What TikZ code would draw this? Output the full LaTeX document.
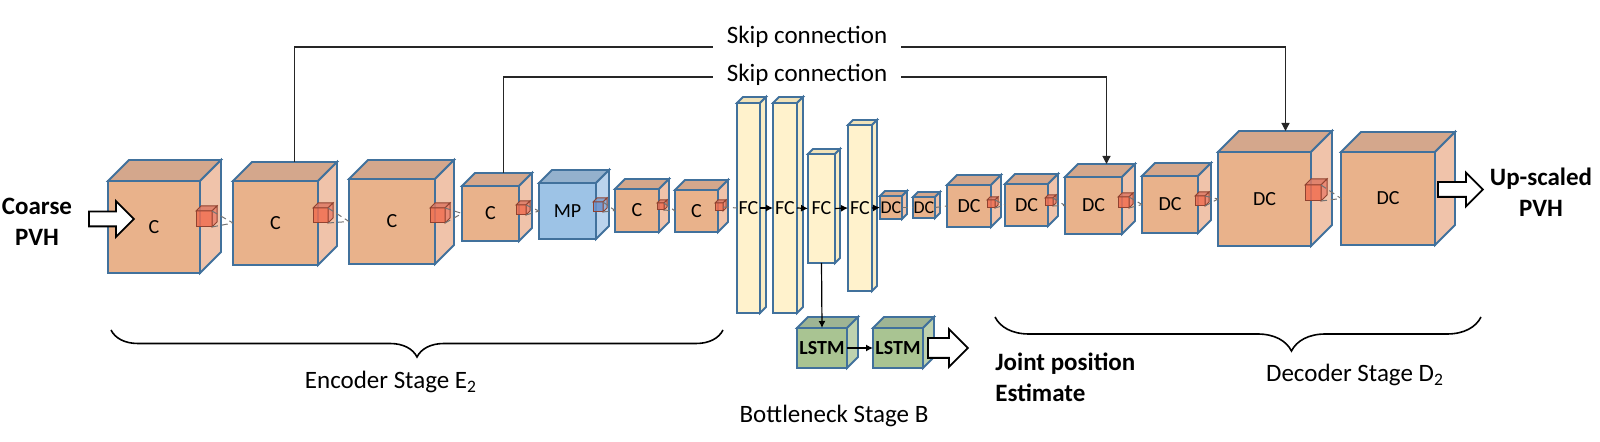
\documentclass[tikz,border=0pt]{standalone}
\usepackage{fontspec}
\setmainfont{Carlito}
\usepackage{tikz}
\usetikzlibrary{positioning, calc, arrows.meta, shapes.arrows, decorations.pathreplacing}

\definecolor{edgeblue}{RGB}{65,113,156}
\definecolor{convF}{RGB}{233,178,139}
\definecolor{convT}{RGB}{212,167,140}
\definecolor{convS}{RGB}{240,195,170}
\definecolor{poolF}{RGB}{157,195,230}
\definecolor{poolT}{RGB}{148,177,205}
\definecolor{poolS}{RGB}{186,211,236}
\definecolor{fcF}{RGB}{255,242,204}
\definecolor{fcT}{RGB}{240,226,184}
\definecolor{fcS}{RGB}{250,236,196}
\definecolor{lstmF}{RGB}{169,196,146}
\definecolor{lstmT}{RGB}{158,180,148}
\definecolor{lstmS}{RGB}{190,210,175}
\definecolor{kernF}{RGB}{240,110,80}
\definecolor{kernT}{RGB}{222,122,100}
\definecolor{kernS}{RGB}{234,130,110}
\definecolor{mpkF}{RGB}{105,145,205}
\definecolor{mpkT}{RGB}{125,155,200}
\definecolor{mpkS}{RGB}{140,170,215}

% \layer{name}{x}{y}{w}{h}{depth}{colour}{label}
\newcommand{\layer}[8]{%
  \node[face, fill=#7F, minimum width={#4*0.5pt}, minimum height={#5*0.5pt}] (#1) at ({#2+#4/2},{#3+#5/2}) {#8};
  \draw[face, fill=#7T] (#1.north west) -- ++(#6,-#6) -- ++(#4,0) -- (#1.north east) -- cycle;
  \draw[face, fill=#7S] (#1.north east) -- ++(#6,-#6) -- ++(0,#5) -- (#1.south east) -- cycle;
  \coordinate (#1-back) at ([shift={(#6,-#6)}]#1.north);
}
% \kernel{name}{x}{y}{size}{depth}{colour}
\newcommand{\kernel}[6]{%
  \node[kface, fill=#6F, minimum size={#4*0.5pt}] (#1) at ({#2+#4/2},{#3+#4/2}) {};
  \draw[kface, fill=#6T] (#1.north west) -- ++(#5,-#5) -- ++(#4,0) -- (#1.north east) -- cycle;
  \draw[kface, fill=#6S] (#1.north east) -- ++(#5,-#5) -- ++(0,#4) -- (#1.south east) -- cycle;
}

\begin{document}
\begin{tikzpicture}[x=0.5pt, y=-0.5pt,
    face/.style={draw=edgeblue, line width=0.9pt, inner sep=0pt, outer sep=0pt, font=\fontsize{10}{12}\selectfont},
    kface/.style={draw=kernF!60!black, line width=0.5pt, inner sep=0pt, outer sep=0pt, fill opacity=0.85},
    link/.style={densely dashed, black!55, line width=0.5pt},
    fcarrow/.style={-{Latex[length=3.5pt,width=3.5pt]}, line width=0.6pt},
    skip/.style={line width=0.6pt, black!85},
    hollow/.style={single arrow, draw=black, fill=white, line width=0.9pt, inner xsep=0pt, single arrow head indent=0pt},
    stage/.style={font=\fontsize{12.5}{15}\selectfont, inner sep=0pt},
    bigtext/.style={font=\fontsize{12.5}{15.5}\selectfont\bfseries, inner sep=0pt},
    brace/.style={decorate, line width=0.8pt}]
  \useasboundingbox (0,0) rectangle (1600,442);

  % encoder
  \layer{c1}{108}{181}{92}{92}{21}{conv}{C}
  \kernel{k1}{196}{211}{16}{5}{kern}
  \layer{c2}{233}{181}{85}{84}{19}{conv}{C}
  \kernel{k2}{313}{208}{15}{5}{kern}
  \layer{c3}{349}{179}{86}{85}{19}{conv}{C}
  \kernel{k3}{430}{208}{15}{5}{kern}
  \layer{c4}{462}{186}{57}{55}{13}{conv}{C}
  \kernel{k4}{516}{205}{10}{4}{kern}
  \layer{mp}{539}{183}{57}{56}{13}{pool}{MP}
  \kernel{kmp}{593}{202}{10}{4}{mpk}
  \layer{c5}{615}{189}{44}{43}{10}{conv}{C}
  \kernel{k5}{657}{203}{7}{3}{kern}
  \layer{c6}{675}{190}{43}{42}{10}{conv}{C}
  \kernel{k6}{715}{203}{8}{3}{kern}

  % bottleneck
  \layer{fc1}{737}{103}{23}{210}{6}{fc}{FC}
  \layer{fc2}{773}{103}{24}{210}{6}{fc}{FC}
  \layer{fc3}{808}{154}{27}{109}{5}{fc}{FC}
  \layer{fc4}{848}{125}{24}{166}{5}{fc}{FC}
  \layer{lstm1}{797}{328}{50}{40}{11}{lstm}{\bfseries LSTM}
  \layer{lstm2}{873}{328}{50}{40}{11}{lstm}{\bfseries LSTM}

  % decoder
  \layer{dc1}{880}{196}{22}{23}{5}{conv}{\fontsize{9}{10}\selectfont DC}
  \layer{dc2}{913}{197}{22}{21}{5}{conv}{\fontsize{9}{10}\selectfont DC}
  \layer{dc3}{947}{185}{44}{42}{10}{conv}{DC}
  \kernel{kd3}{987}{200}{8}{3}{kern}
  \layer{dc4}{1005}{184}{43}{42}{10}{conv}{DC}
  \kernel{kd4}{1045}{198}{8}{3}{kern}
  \layer{dc5}{1065}{177}{57}{57}{13}{conv}{DC}
  \kernel{kd5}{1118}{197}{11}{4}{kern}
  \layer{dc6}{1142}{176}{56}{57}{13}{conv}{DC}
  \kernel{kd6}{1195}{196}{10}{4}{kern}
  \layer{dc7}{1218}{152}{93}{94}{21}{conv}{DC}
  \kernel{kd7}{1305}{185}{16}{6}{kern}
  \layer{dc8}{1341}{152}{94}{93}{20}{conv}{DC}

  % links between layers
  \foreach \k/\n in {k1/c2, k2/c3, k3/c4, k4/mp, kmp/c5, k5/c6, kd3/dc4, kd4/dc5, kd5/dc6, kd6/dc7, kd7/dc8} {
    \draw[link] (\k.north east) -- (\n.west);
    \draw[link] (\k.south east) -- (\n.west);
  }
  \draw[link] (k6.east) -- (fc1.west);
  \draw[fcarrow] (fc1.east) -- (fc2.west);
  \draw[fcarrow] (fc2.east) -- (fc3.west);
  \draw[fcarrow] (fc3.east) -- (fc4.west);
  \draw[fcarrow] (fc4.east) -- (dc1.west);
  \draw[link] (dc1.east) -- (dc2.west);
  \draw[link] (dc2.east) -- (dc3.west);
  \draw[fcarrow] (fc3.south) -- (lstm1.north);
  \draw[fcarrow] (lstm1.east) -- (lstm2.west);

  % skip connections
  \draw[skip, -{Triangle[length=4pt,width=4pt]}] (c2-back) |- (dc7-back |- 0,47) -- (dc7-back);
  \draw[skip, -{Triangle[length=4pt,width=4pt]}] (c4-back) |- (dc5-back |- 0,77) -- (dc5-back);
  \node[stage, fill=white, inner xsep=7pt, inner ysep=1.5pt, anchor=base] (skip1) at (807,44) {Skip connection};
  \node[stage, fill=white, inner xsep=7pt, inner ysep=1.5pt, anchor=base] (skip2) at (807,82) {Skip connection};

  % in / out
  \node[hollow, minimum height=22.5pt, inner ysep=3.25pt, single arrow head extend=5.25pt, anchor=west] (inarrow) at (88,219) {};
  \node[hollow, minimum height=20pt, inner ysep=4.5pt, single arrow head extend=4.5pt, anchor=west] (bnarrow) at ([xshift=2pt]lstm2.east) {};
  \node[hollow, minimum height=22.5pt, inner ysep=3.25pt, single arrow head extend=4.75pt, anchor=west] (outarrow) at ([shift={(2,-9)}]dc8.east) {};
  \node[bigtext, align=center] (coarse) at (37,222) {Coarse\\PVH};
  \node[bigtext, align=center] (upscaled) at (1541,192) {Up-scaled\\PVH};
  \node[bigtext, align=left, anchor=west] (joint) at (995,377) {Joint position\\Estimate};

  % stages
  \draw[brace, decoration={brace, mirror, amplitude=13.5pt}] (111,330) -- (723,330);
  \draw[brace, decoration={brace, mirror, amplitude=17pt, aspect=0.61}] (995,317) -- (1481,317);
  \node[stage] (enc) at (391,382) {Encoder Stage E\textsubscript{2}};
  \node[stage] (bott) at (834,416) {Bottleneck Stage B};
  \node[stage] (dec) at (1355,375) {Decoder Stage D\textsubscript{2}};
\end{tikzpicture}
\end{document}
